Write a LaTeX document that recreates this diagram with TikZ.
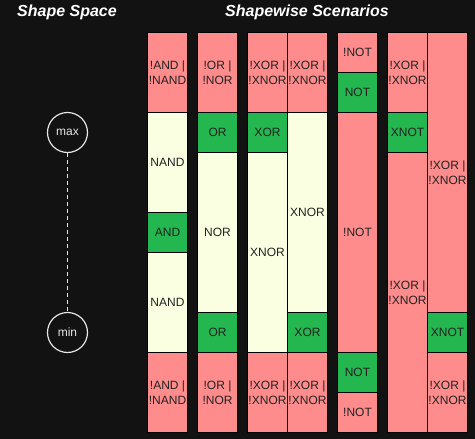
\documentclass[tikz,border=0pt]{standalone}
\usepackage{fontspec}
\setmainfont{Liberation Sans}
\usetikzlibrary{positioning}
\definecolor{bgDark}{HTML}{121212}
\definecolor{cRed}{HTML}{FF8C8C}
\definecolor{cGreen}{HTML}{24B64F}
\definecolor{cCream}{HTML}{FAFFE2}
\definecolor{cText}{HTML}{222222}
\definecolor{cLine}{HTML}{E6E6E6}

\tikzset{
  cell/.style={draw=black, line width=1pt, rectangle, minimum width=40pt, inner sep=0pt,
    align=center, text=cText, font=\fontsize{12}{15}\selectfont},
  level/.style={circle, draw=cLine, line width=1.2pt, minimum size=40pt, inner sep=0pt,
    text=cLine, font=\fontsize{12}{14}\selectfont},
  heading/.style={text=white, font=\fontsize{16}{18}\selectfont\bfseries\itshape}
}

\begin{document}
\begin{tikzpicture}[x=1pt, y=-1pt]
    \useasboundingbox[fill=bgDark] (0,0) rectangle (475,439);
    \node[heading] (hspace) at (67,12.5) {Shape Space};
    \node[heading] (hscen) at (307,12.5) {Shapewise Scenarios};

    \node[level] (max) at (67.5,132.5) {max};
    \node[level] (min) at (67.5,332.5) {min};
    \draw[cLine, line width=1pt, dash pattern=on 4pt off 3pt] (max) -- (min);

    % column 1
    \foreach \n/\y/\h/\k/\t in {a/72.5/80/cRed/{!AND |\\!NAND}, b/162.5/100/cCream/NAND,
      c/232.5/40/cGreen/AND, d/302.5/100/cCream/NAND, e/392.5/80/cRed/{!AND |\\!NAND}}
      \node[cell, fill=\k, minimum height=\h] (c1\n) at (167.5,\y) {\t};
    % column 2
    \foreach \n/\y/\h/\k/\t in {a/72.5/80/cRed/{!OR |\\!NOR}, b/132.5/40/cGreen/OR,
      c/232.5/160/cCream/NOR, d/332.5/40/cGreen/OR, e/392.5/80/cRed/{!OR |\\!NOR}}
      \node[cell, fill=\k, minimum height=\h] (c2\n) at (217.5,\y) {\t};
    % column 3
    \foreach \n/\y/\h/\k/\t in {a/72.5/80/cRed/{!XOR |\\!XNOR}, b/132.5/40/cGreen/XOR,
      c/252.5/200/cCream/XNOR, d/392.5/80/cRed/{!XOR |\\!XNOR}}
      \node[cell, fill=\k, minimum height=\h] (c3\n) at (267.5,\y) {\t};
    % column 4
    \foreach \n/\y/\h/\k/\t in {a/72.5/80/cRed/{!XOR |\\!XNOR}, b/212.5/200/cCream/XNOR,
      c/332.5/40/cGreen/XOR, d/392.5/80/cRed/{!XOR |\\!XNOR}}
      \node[cell, fill=\k, minimum height=\h] (c4\n) at (307.5,\y) {\t};
    % column 5
    \foreach \n/\y/\h/\k/\t in {a/52.5/40/cRed/!NOT, b/92.5/40/cGreen/NOT,
      c/232.5/240/cRed/!NOT, d/372.5/40/cGreen/NOT, e/412.5/40/cRed/!NOT}
      \node[cell, fill=\k, minimum height=\h] (c5\n) at (357.5,\y) {\t};
    % column 6
    \foreach \n/\y/\h/\k/\t in {a/72.5/80/cRed/{!XOR |\\!XNOR}, b/132.5/40/cGreen/XNOT,
      c/292.5/280/cRed/{!XOR |\\!XNOR}}
      \node[cell, fill=\k, minimum height=\h] (c6\n) at (407.5,\y) {\t};
    % column 7
    \foreach \n/\y/\h/\k/\t in {a/172.5/280/cRed/{!XOR |\\!XNOR}, b/332.5/40/cGreen/XNOT,
      c/392.5/80/cRed/{!XOR |\\!XNOR}}
      \node[cell, fill=\k, minimum height=\h] (c7\n) at (447.5,\y) {\t};
\end{tikzpicture}
\end{document}
